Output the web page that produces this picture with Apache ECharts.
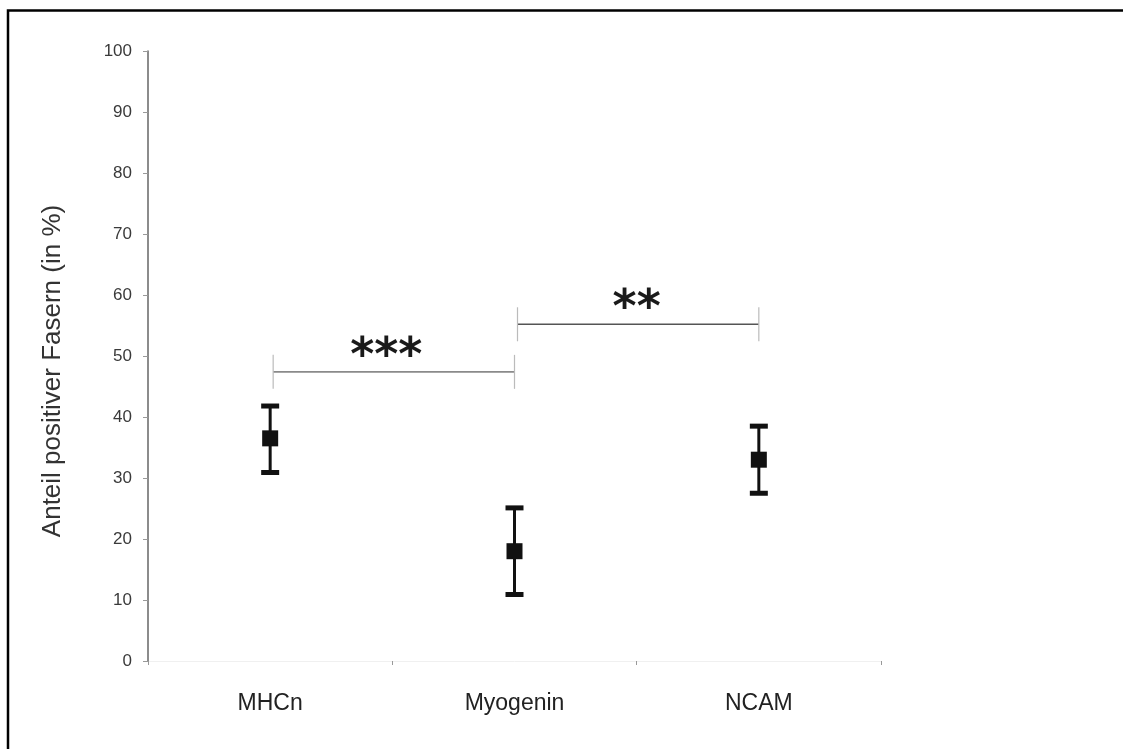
<!DOCTYPE html>
<html>
<head>
<meta charset="utf-8">
<script src="https://cdn.jsdelivr.net/npm/echarts@6/dist/echarts.min.js"></script>
<style>
  html, body { margin: 0; padding: 0; background: #fff; }
  #chart { width: 1123px; height: 749px; }
</style>
</head>
<body>
<div id="chart"></div>
<script>
// Werte (Anteil positiver Fasern in %)
const categories = ['MHCn', 'Myogenin', 'NCAM'];
const means = [36.5, 18.0, 33.0];
const lower = [30.9, 10.9, 27.5];
const upper = [41.8, 25.1, 38.5];
const yTicks = [0, 10, 20, 30, 40, 50, 60, 70, 80, 90, 100];

// Signifikanzklammern: [von, bis, Höhe, Sterne]
const brackets = [
    [0, 1, 47.4, '***'],
    [1, 2, 55.2, '**']
];

const errData = categories.map((c, i) => [i, lower[i], upper[i]]);
const meanData = categories.map((c, i) => [i, means[i]]);

var myChart = echarts.init(document.getElementById('chart'));
var option = {
    backgroundColor: '#fff',
    animation: false,
    textStyle: { fontFamily: 'Liberation Sans, Arial, sans-serif' },
    graphic: [{
        type: 'rect',
        shape: { x: 8, y: 10.5, width: 1200, height: 800 },
        style: { fill: 'none', stroke: '#000', lineWidth: 2.5 },
        silent: true
    }],
    grid: { left: 148, right: 242, top: 51, bottom: 88 },
    xAxis: {
        type: 'category',
        data: categories,
        boundaryGap: true,
        axisLine: { lineStyle: { color: '#f0f0f0', width: 1 } },
        axisTick: { show: true, alignWithLabel: false, length: 4, lineStyle: { color: '#999' } },
        axisLabel: { color: '#222', fontSize: 23, margin: 31 }
    },
    yAxis: {
        type: 'value',
        min: yTicks[0],
        max: yTicks[yTicks.length - 1],
        interval: 10,
        name: 'Anteil positiver Fasern (in %)',
        nameLocation: 'middle',
        nameGap: 82,
        nameTextStyle: { color: '#333', fontSize: 26, padding: [0, 30, 0, 0] },
        splitLine: { show: false },
        axisLine: { show: true, lineStyle: { color: '#666', width: 1.5 } },
        axisTick: { show: true, length: 5, lineStyle: { color: '#999' } },
        axisLabel: { color: '#3a3a3a', fontSize: 17, margin: 16 }
    },
    series: [
        {
            name: 'Fehlerbalken',
            type: 'custom',
            data: errData,
            z: 3,
            renderItem: (params, api) => {
                const x = api.value(0);
                const lo = api.coord([x, api.value(1)]);
                const hi = api.coord([x, api.value(2)]);
                const capW = 18, capH = 5;
                return {
                    type: 'group',
                    children: [
                        { type: 'line', shape: { x1: lo[0], y1: lo[1], x2: hi[0], y2: hi[1] },
                          style: { stroke: '#111', lineWidth: 3 } },
                        { type: 'rect', shape: { x: hi[0] - capW / 2, y: hi[1] - capH / 2, width: capW, height: capH },
                          style: { fill: '#111' } },
                        { type: 'rect', shape: { x: lo[0] - capW / 2, y: lo[1] - capH / 2, width: capW, height: capH },
                          style: { fill: '#111' } }
                    ]
                };
            }
        },
        {
            name: 'Mittelwert',
            type: 'scatter',
            data: meanData,
            symbol: 'rect',
            symbolSize: 16,
            itemStyle: { color: '#111', opacity: 1 },
            z: 4
        },
        {
            name: 'Signifikanz',
            type: 'custom',
            data: brackets,
            z: 2,
            renderItem: (params, api) => {
                const a = api.coord([api.value(0), api.value(2)]);
                const b = api.coord([api.value(1), api.value(2)]);
                const col = params.dataIndex === 0 ? '#8a8a8a' : '#555';
                const label = brackets[params.dataIndex][3];
                return {
                    type: 'group',
                    children: [
                        { type: 'line', shape: { x1: a[0] + 3, y1: a[1], x2: b[0], y2: b[1] },
                          style: { stroke: col, lineWidth: 1.6 } },
                        { type: 'line', shape: { x1: a[0] + 3, y1: a[1] - 17, x2: a[0] + 3, y2: a[1] + 17 },
                          style: { stroke: '#bbb', lineWidth: 1.2 } },
                        { type: 'line', shape: { x1: b[0], y1: b[1] - 17, x2: b[0], y2: b[1] + 17 },
                          style: { stroke: '#bbb', lineWidth: 1.2 } },
                        { type: 'text', x: (a[0] + b[0]) / 2 - (params.dataIndex === 0 ? 6 : 0), y: a[1] + 9,
                          style: { text: label, fill: '#1a1a1a', fontSize: 46, fontWeight: 'bold',
                                   fontFamily: 'DejaVu Sans', align: 'center', verticalAlign: 'bottom' } }
                    ]
                };
            }
        }
    ]
};
option && myChart.setOption(option);
</script>
</body>
</html>
